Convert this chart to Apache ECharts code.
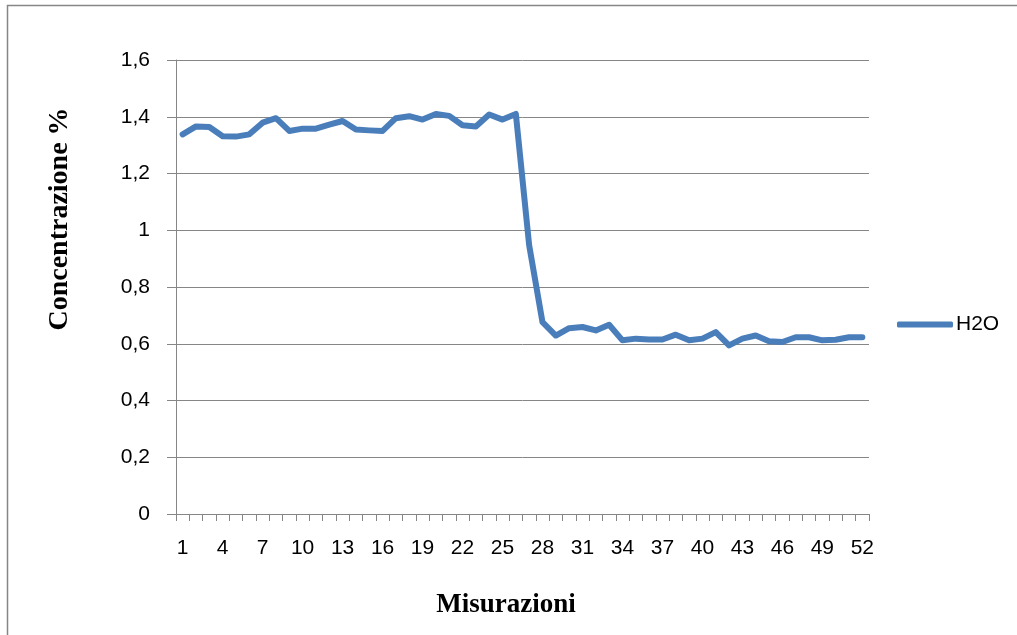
<!DOCTYPE html>
<html>
<head>
<meta charset="utf-8">
<title>H2O</title>
<script src="https://cdn.jsdelivr.net/npm/echarts@6/dist/echarts.min.js"></script>
<style>
  html, body { margin: 0; padding: 0; background: #ffffff; }
  #chart { width: 1017px; height: 635px; }
</style>
</head>
<body>
<div id="chart"></div>
<script>
// Measurement index 1..52
const categories = Array.from({ length: 52 }, (_, i) => String(i + 1));

// H2O concentration (%) per measurement
const h2o = [
  1.338, 1.366, 1.364, 1.331, 1.330, 1.338, 1.379, 1.395, 1.350, 1.358,
  1.358, 1.372, 1.385, 1.355, 1.352, 1.350, 1.395, 1.402, 1.390, 1.410,
  1.403, 1.370, 1.366, 1.408, 1.390, 1.410, 0.947, 0.676, 0.629, 0.655,
  0.659, 0.647, 0.667, 0.612, 0.618, 0.615, 0.615, 0.632, 0.612, 0.618,
  0.641, 0.594, 0.618, 0.629, 0.609, 0.606, 0.623, 0.623, 0.612, 0.614,
  0.623, 0.623
];

const yTicks = { min: 0, max: 1.6, interval: 0.2 };

const labelFont = '"Liberation Sans", Arial, sans-serif';
const titleFont = '"Liberation Serif", "Times New Roman", serif';
const gridColor = '#868686';
const lineColor = '#4A7EBB';

const chart = echarts.init(document.getElementById('chart'));
chart.setOption({
  backgroundColor: '#ffffff',
  animation: false,
  grid: { left: 176, right: 148, top: 60, bottom: 121 },
  legend: {
    data: [{ name: 'H2O', icon: 'roundRect' }],
    left: 892,
    top: 309,
    itemWidth: 56,
    itemHeight: 6,
    itemGap: 4,
    itemStyle: { color: lineColor },
    textStyle: { fontFamily: labelFont, fontSize: 21, color: '#000', padding: [0, 0, 0, -2] }
  },
  xAxis: {
    type: 'category',
    data: categories,
    boundaryGap: true,
    axisLine: { lineStyle: { color: gridColor, width: 1 } },
    axisTick: { show: true, interval: 0, length: 7, lineStyle: { color: gridColor } },
    axisLabel: {
      interval: 2,
      margin: 24,
      fontFamily: labelFont,
      fontSize: 21,
      color: '#000'
    },
    splitLine: { show: false }
  },
  yAxis: {
    type: 'value',
    min: yTicks.min,
    max: yTicks.max,
    interval: yTicks.interval,
    axisLine: { show: true, lineStyle: { color: gridColor, width: 1 } },
    axisTick: { show: true, length: 9, lineStyle: { color: gridColor } },
    axisLabel: {
      margin: 26,
      fontFamily: labelFont,
      fontSize: 21,
      color: '#000',
      formatter: v => String(Math.round(v * 10) / 10).replace('.', ',')
    },
    splitLine: { show: true, lineStyle: { color: gridColor, width: 1 } }
  },
  series: [{
    name: 'H2O',
    type: 'line',
    data: h2o,
    symbol: 'none',
    lineStyle: { color: lineColor, width: 6, cap: 'round', join: 'round' },
    itemStyle: { color: lineColor }
  }],
  graphic: [
    {
      type: 'polyline',
      shape: { points: [[1030, 5.5], [7.5, 5.5], [7.5, 640]] },
      style: { stroke: gridColor, lineWidth: 1.5, fill: null },
      silent: true
    },
    {
      type: 'text',
      x: 60,
      y: 219,
      rotation: Math.PI / 2,
      style: {
        text: 'Concentrazione %',
        font: 'bold 28px ' + titleFont,
        fill: '#000',
        align: 'center',
        verticalAlign: 'middle'
      }
    },
    {
      type: 'text',
      x: 506,
      y: 605,
      style: {
        text: 'Misurazioni',
        font: 'bold 27px ' + titleFont,
        fill: '#000',
        align: 'center',
        verticalAlign: 'middle'
      }
    }
  ]
});
</script>
</body>
</html>
